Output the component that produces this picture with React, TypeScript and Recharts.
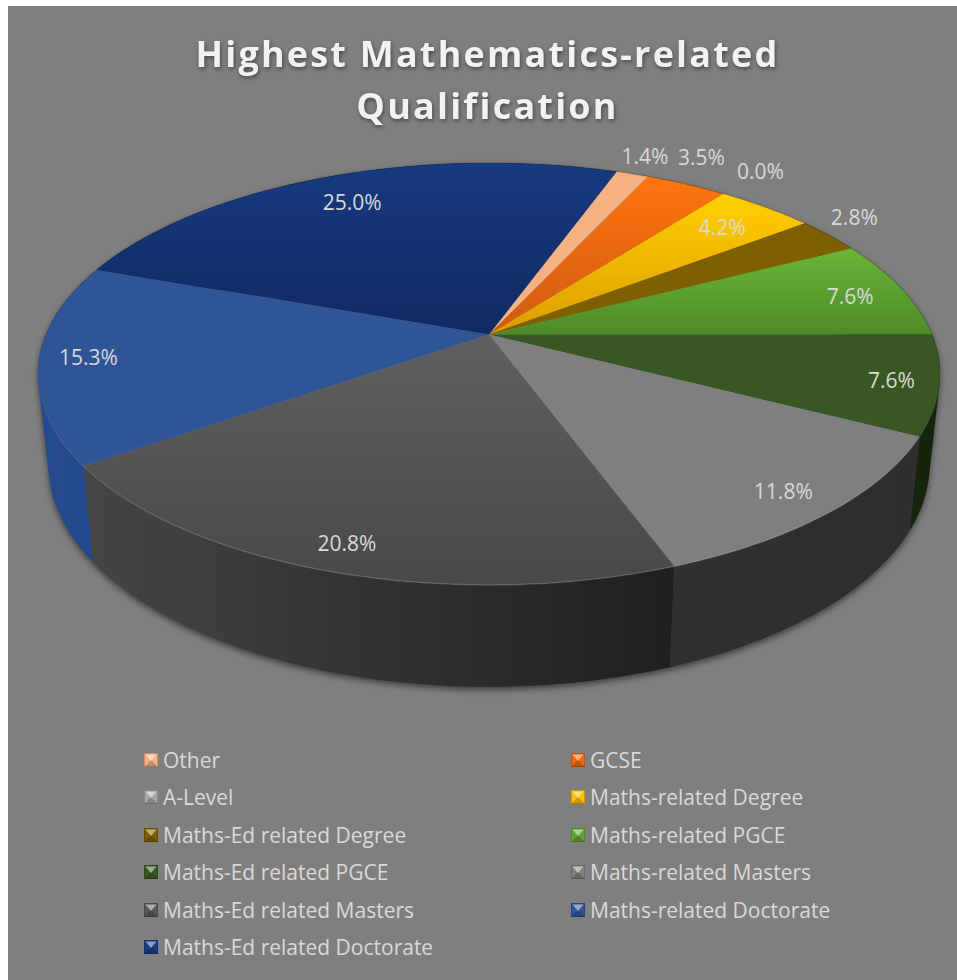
import React from "react";
import { PieChart, Pie, Legend } from "recharts";

const QUALIFICATIONS = [
  "Other",
  "GCSE",
  "A-Level",
  "Maths-related Degree",
  "Maths-Ed related Degree",
  "Maths-related PGCE",
  "Maths-Ed related PGCE",
  "Maths-related Masters",
  "Maths-Ed related Masters",
  "Maths-related Doctorate",
  "Maths-Ed related Doctorate",
];
const PERCENTAGES = [1.4, 3.5, 0.0, 4.2, 2.8, 7.6, 7.6, 11.8, 20.8, 15.3, 25.0];

// face gradients run top to bottom of each slice, walls run left to right
const FACE_FROM = ["#f4b183", "#ff7510", "#a6a6a6", "#ffd000", "#7f6000", "#68b736", "#385723", "#7f7f7f", "#606060", "#2f5597", "#173a80"];
const FACE_TO = ["#f4b183", "#cf5a10", "#a6a6a6", "#dd9c00", "#7f6000", "#4e8a28", "#385723", "#7f7f7f", "#484848", "#2f5597", "#112a63"];
const WALL_FROM = ["#7a5a40", "#7a3c10", "#555555", "#7f6000", "#3f3000", "#2a4a14", "#15240c", "#303030", "#454545", "#264b8d", "#0c1d45"];
const WALL_TO = ["#7a5a40", "#7a3c10", "#555555", "#7f6000", "#3f3000", "#2a4a14", "#15240c", "#2e2e2e", "#1f1f1f", "#21458a", "#0c1d45"];
const LEGEND_COLORS = ["#f4b183", "#e8690f", "#a6a6a6", "#ffc000", "#7f6000", "#5fa830", "#385723", "#7f7f7f", "#595959", "#2f5597", "#1a3a80"];

// where each value label sits along its slice's mid angle (1 = rim)
const LABEL_RADIUS = [1.13, 1.19, 1.19, 0.83, 1.13, 0.87, 0.9, 0.89, 0.9, 0.89, 0.82];
const LABEL_NUDGE = [-0.3, -2.2, 0, 0, -2.5, 0.6, 0, 0.5, 0, 0.7, 0];

const WIDTH = 949;
const HEIGHT = 974;
const FIRST_SLICE = 70.2; // degrees, recharts convention
const TEXT_COLOR = "#d9d9d9";
const TEXT_FONT = "Open Sans";

// perspective of the tilted disc
const SQUASH = 0.4678;
const SKEW = -0.187;
const WALL_SCALE_X = 0.977;
const WALL_SCALE_Y = 1.054;
const WALL_DROP = 0.2007;

const sliceData = QUALIFICATIONS.map((name, i) => ({
  name,
  value: PERCENTAGES[i],
  sliceIndex: i,
}));

// clockwise angle from the top of the disc, radius in rim units -> screen point
const facePoint = (cx: number, cy: number, rx: number, clock: number, r = 1) => {
  const rad = (clock * Math.PI) / 180;
  const x = r * Math.sin(rad);
  const y = -r * Math.cos(rad);
  const d = 1 + SKEW * y;
  const px = (x * Math.sqrt(1 - SKEW * SKEW)) / d;
  const py = (y + SKEW) / d;
  return [cx + rx * px, cy + (py - SKEW) * rx * SQUASH];
};

const wallPoint = (cx: number, cy: number, rx: number, clock: number) => {
  const [x, y] = facePoint(cx, cy, rx, clock);
  const mid = cy - SKEW * rx * SQUASH;
  return [
    cx + (x - cx) * WALL_SCALE_X,
    mid + WALL_DROP * rx + (y - mid) * WALL_SCALE_Y,
  ];
};

const arcAngles = (startAngle: number, endAngle: number) => {
  const from = 90 - startAngle;
  const to = 90 - endAngle;
  const steps = Math.max(1, Math.ceil(Math.abs(to - from)));
  return Array.from({ length: steps + 1 }, (_, k) => from + ((to - from) * k) / steps);
};

const toPath = (points: number[][]) =>
  "M" + points.map((p) => `${p[0].toFixed(2)},${p[1].toFixed(2)}`).join("L");

const signedArea = (pts: number[][]) =>
  pts.reduce((sum, p, i) => {
    const q = pts[(i + 1) % pts.length];
    return sum + p[0] * q[1] - q[0] * p[1];
  }, 0);

const FaceSlice = (props: any) => {
  const { cx, cy, outerRadius, startAngle, endAngle, sliceIndex } = props;
  if (startAngle === endAngle) return <g />;
  const rim = arcAngles(startAngle, endAngle).map((a) => facePoint(cx, cy, outerRadius, a));
  return (
    <g>
      <path d={toPath([[cx, cy], ...rim]) + "Z"} fill={`url(#face-${sliceIndex})`} />
      <path d={toPath(rim)} fill="none" stroke="url(#rim-light)" strokeWidth={1.5} />
    </g>
  );
};

// one quad per degree, all wound the same way, so the sweep past the disc's
// silhouette stays filled
const WallSlice = (props: any) => {
  const { cx, cy, outerRadius, startAngle, endAngle, sliceIndex } = props;
  if (startAngle === endAngle) return <g />;
  const angles = arcAngles(startAngle, endAngle);
  const quads = angles.slice(1).map((a, i) => {
    const prev = angles[i];
    const quad = [
      facePoint(cx, cy, outerRadius, prev),
      facePoint(cx, cy, outerRadius, a),
      wallPoint(cx, cy, outerRadius, a),
      wallPoint(cx, cy, outerRadius, prev),
    ];
    if (signedArea(quad) < 0) quad.reverse();
    return toPath(quad) + "Z";
  });
  return <path d={quads.join("")} fill={`url(#wall-${sliceIndex})`} />;
};

const renderValueLabel = (props: any) => {
  const { cx, cy, outerRadius, midAngle, value, index } = props;
  const [x, y] = facePoint(
    cx,
    cy,
    outerRadius,
    90 - midAngle + LABEL_NUDGE[index],
    LABEL_RADIUS[index]
  );
  return (
    <text
      x={x - 1}
      y={y}
      textAnchor="middle"
      dominantBaseline="central"
      fill={TEXT_COLOR}
      fontFamily={TEXT_FONT}
      fontSize={21}
    >
      {`${value.toFixed(1)}%`}
    </text>
  );
};

const LegendMark = ({ color }: { color: string }) => (
  <svg width={14} height={14} style={{ flex: "none", marginRight: 5 }}>
    <rect width={14} height={14} fill={color} />
    <polygon points="0,14 14,14 7,7" fill="#000" fillOpacity={0.2} />
    <polygon points="1.5,1.5 12.5,1.5 7,8" fill="#fff" fillOpacity={0.5} />
    <rect x={0.5} y={0.5} width={13} height={13} fill="none" stroke="#000" strokeOpacity={0.18} />
  </svg>
);

const LegendGrid = () => (
  <div
    style={{
      display: "grid",
      gridTemplateColumns: "427px 300px",
      gridAutoRows: "37.5px",
      marginLeft: 136,
      fontFamily: TEXT_FONT,
      fontSize: 21,
      color: TEXT_COLOR,
      whiteSpace: "nowrap",
    }}
  >
    {QUALIFICATIONS.map((name, i) => (
      <div key={name} style={{ display: "flex", alignItems: "center" }}>
        <LegendMark color={LEGEND_COLORS[i]} />
        {name}
      </div>
    ))}
  </div>
);

export default function App() {
  return (
    <div
      style={{
        position: "absolute",
        left: 8,
        top: 6,
        width: WIDTH,
        height: HEIGHT,
        background: "#7f7f7f",
      }}
    >
      <style>{`
        .pie-walls { filter: drop-shadow(0px 3px 3px rgba(0,0,0,0.5)); }
        .chart-title { filter: drop-shadow(1px 2px 2px rgba(0,0,0,0.45)); }
      `}</style>
      <PieChart width={WIDTH} height={HEIGHT} margin={{ top: 0, right: 0, bottom: 0, left: 0 }}>
        <defs>
          {QUALIFICATIONS.map((name, i) => (
            <linearGradient key={name} id={`face-${i}`} x1="0" y1="0" x2="0" y2="1">
              <stop offset="0" stopColor={FACE_FROM[i]} />
              <stop offset="1" stopColor={FACE_TO[i]} />
            </linearGradient>
          ))}
          {QUALIFICATIONS.map((name, i) => (
            <linearGradient key={name} id={`wall-${i}`} x1="0" y1="0" x2="1" y2="0">
              <stop offset="0" stopColor={WALL_FROM[i]} />
              <stop offset="1" stopColor={WALL_TO[i]} />
            </linearGradient>
          ))}
          <linearGradient id="rim-light" gradientUnits="userSpaceOnUse" x1="0" y1="200" x2="0" y2="580">
            <stop offset="0" stopColor="#000" stopOpacity={0.12} />
            <stop offset="0.45" stopColor="#000" stopOpacity={0.06} />
            <stop offset="0.6" stopColor="#fff" stopOpacity={0.05} />
            <stop offset="1" stopColor="#fff" stopOpacity={0.15} />
          </linearGradient>
        </defs>
        <g className="chart-title">
          <text
            x={479.5}
            textAnchor="middle"
            fill="#f2f2f2"
            fontFamily="Open Sans"
            fontWeight={700}
            fontSize={36}
            letterSpacing={2.2}
          >
            <tspan x={479.5} y={61}>Highest Mathematics-related</tspan>
            <tspan x={479.5} y={113}>Qualification</tspan>
          </text>
        </g>
        <Pie
          className="pie-walls"
          data={sliceData}
          dataKey="value"
          nameKey="name"
          cx={481}
          cy={328.5}
          outerRadius={451}
          startAngle={FIRST_SLICE}
          endAngle={FIRST_SLICE - 360}
          legendType="none"
          shape={WallSlice}
          label={false}
          labelLine={false}
          isAnimationActive={false}
        />
        <Pie
          data={sliceData}
          dataKey="value"
          nameKey="name"
          cx={481}
          cy={328.5}
          outerRadius={451}
          startAngle={FIRST_SLICE}
          endAngle={FIRST_SLICE - 360}
          shape={FaceSlice}
          label={renderValueLabel}
          labelLine={false}
          isAnimationActive={false}
        />
        <Legend
          content={LegendGrid}
          wrapperStyle={{ position: "absolute", left: 0, top: 735, width: WIDTH }}
        />
      </PieChart>
    </div>
  );
}
